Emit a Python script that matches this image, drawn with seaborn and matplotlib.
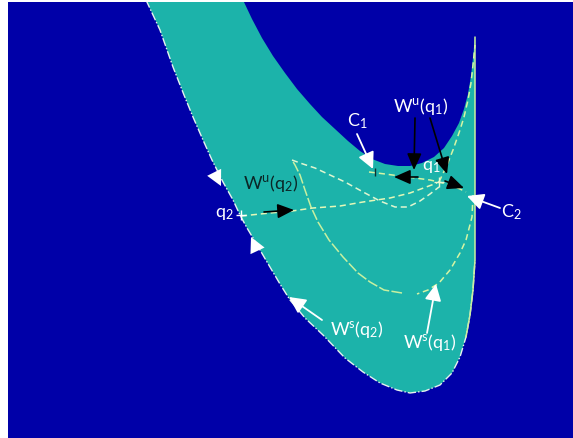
import matplotlib
matplotlib.use("Agg")
import matplotlib.pyplot as plt
import seaborn as sns

sns.set_style("white")
plt.rcParams["font.family"] = ["Lato", "DejaVu Sans"]
plt.rcParams["mathtext.fontset"] = "custom"
plt.rcParams["mathtext.rm"] = "Lato"
plt.rcParams["mathtext.it"] = "Lato"

BLUE = "#0000a8"
TEAL = "#1cb3aa"
PALE = "#d6f5a4"
WHITE = "#ffffff"

# Outer boundary of the region: left edge down to the bottom, then up the right side to the cusp
outer_x = [146, 160, 173, 184, 193, 203, 212, 223, 233, 240, 247, 253, 260, 267, 280, 290,
           305, 323, 345, 363, 380, 397, 410, 425, 440, 452, 460, 466, 470, 473, 475, 475, 475, 475]
outer_y = [0, 30, 67, 95, 117, 140, 160, 182, 200, 215, 228, 238, 250, 262, 284, 300,
           318, 335, 358, 372, 383, 390, 393, 391, 385, 373, 357, 337, 315, 290, 260, 180, 100, 37]
# Inner boundary (the cavity), from the cusp back to the top edge
inner_x = [475, 473, 471, 468, 464, 459, 452, 444, 434, 422, 410, 398, 385, 372, 360, 348,
           335, 322, 310, 297, 285, 273, 262, 252, 243]
inner_y = [37, 58, 76, 94, 109, 123, 136, 148, 157, 163, 166, 166, 164, 159, 151, 141,
           129, 117, 104, 89, 73, 56, 38, 19, 0]

# Unstable branch of q1 rising to the cusp
wu_q1_x = [439, 447, 453, 460, 464, 468, 471, 473, 475]
wu_q1_y = [182, 165, 150, 130, 117, 100, 83, 65, 45]
# Stable manifold of q1: lower U-shaped curve (two pieces) and the steep fold below the loop tip
ws_q1_right_x = [473, 472, 466, 460, 450, 439, 428, 417]
ws_q1_right_y = [195, 217, 240, 253, 270, 283, 290, 294]
ws_q1_left_x = [402, 384, 370, 358, 343, 329, 318, 311, 305, 300, 295, 292]
ws_q1_left_y = [293, 290, 282, 273, 257, 240, 222, 207, 190, 175, 165, 160]
# Loop from the tip back to q1
loop_x = [292, 300, 315, 330, 345, 365, 380, 395, 408, 420, 430, 439]
loop_y = [160, 163, 168, 175, 182, 193, 201, 207, 207, 201, 194, 187]
# Unstable manifold of q2
wu_q2_x = [241, 270, 292, 313, 340, 363, 390, 410, 437]
wu_q2_y = [216, 213, 211, 208, 206, 202, 198, 193, 183]
# Segment C1 -> q1 -> C2
c_x = [369, 385, 400, 415, 430, 439, 450, 460, 466]
c_y = [172, 174, 176, 178, 180, 182, 185, 189, 192]

# Labels: text, x, y, colour
label_text = [r"C$_\mathrm{1}$", r"W$^\mathrm{u}$(q$_\mathrm{1}$)", r"q$_\mathrm{1}$",
              r"C$_\mathrm{2}$", r"W$^\mathrm{u}$(q$_\mathrm{2}$)", r"q$_\mathrm{2}$",
              r"W$^\mathrm{s}$(q$_\mathrm{2}$)", r"W$^\mathrm{s}$(q$_\mathrm{1}$)"]
label_x = [357, 421, 431, 511, 271, 224, 357, 430]
label_y = [121, 107, 167, 212, 184, 214, 330, 343]
label_col = [WHITE, WHITE, WHITE, WHITE, "#0b2626", WHITE, WHITE, WHITE]

# Pointer arrows: (tail x, tail y, head x, head y)
white_arrows = [(357, 134, 373, 169), (500, 208, 467, 196),
                (322, 320, 289, 297), (427, 333, 436, 284)]
black_arrows = [(415, 118, 414, 170), (430, 118, 447, 174),
                (418, 177, 394, 177), (445, 181, 464, 188), (264, 212, 294, 210)]
# Flow-direction heads on the stable manifold of q2
flow_heads = [(212, 168, 221, 186), (259, 254, 251, 237)]

fig = plt.figure(figsize=(5.73, 4.38), dpi=100, facecolor="white")
ax = fig.add_axes([8 / 573, 0, 565 / 573, 436 / 438])
ax.set_facecolor(BLUE)
ax.set_xlim(8, 573)
ax.set_ylim(438, 2)
ax.set_xticks([])
ax.set_yticks([])
for s in ax.spines.values():
    s.set_visible(False)

ax.fill(outer_x + inner_x, outer_y + inner_y, color=TEAL, lw=0, zorder=1)

# Boundary curve (stable manifold of q2) and right edge
sns.lineplot(x=outer_x[:31], y=outer_y[:31], sort=False, estimator=None, ax=ax,
             color="#e6f2ee", lw=1.0, linestyle=(0, (6, 1.5, 1, 1.5)), zorder=3)
sns.lineplot(x=outer_x[27:], y=outer_y[27:], sort=False, estimator=None, ax=ax,
             color="#c9eea0", lw=1.1, zorder=3)

dash = (0, (4, 2.5))
for xs, ys, col, ls in [(wu_q1_x, wu_q1_y, PALE, dash),
                        (ws_q1_right_x, ws_q1_right_y, PALE, dash),
                        (ws_q1_left_x, ws_q1_left_y, "#c8f0a0", (0, (7, 1.5))),
                        (loop_x, loop_y, "#e0f6d0", dash),
                        (wu_q2_x, wu_q2_y, "#e4f8b8", dash),
                        (c_x, c_y, PALE, dash)]:
    sns.lineplot(x=xs, y=ys, sort=False, estimator=None, ax=ax,
                 color=col, lw=1.1, linestyle=ls, zorder=4)

# Point markers
ax.plot([241], [215], marker="+", color=WHITE, ms=7, mew=1, zorder=5)
ax.plot([439], [182], marker="+", color="#e8f8d0", ms=7, mew=1, zorder=5)
ax.plot([375], [172], marker="|", color="#0b3030", ms=6, mew=1, zorder=5)

for x0, y0, x1, y1 in white_arrows:
    ax.annotate("", xy=(x1, y1), xytext=(x0, y0),
                arrowprops=dict(arrowstyle="-|>,head_length=0.5,head_width=0.25",
                                mutation_scale=20, color=WHITE, lw=1.3,
                                shrinkA=0, shrinkB=0), zorder=6)
for x0, y0, x1, y1 in black_arrows:
    ax.annotate("", xy=(x1, y1), xytext=(x0, y0),
                arrowprops=dict(arrowstyle="-|>,head_length=0.5,head_width=0.22",
                                mutation_scale=20, color="black", lw=1.2,
                                shrinkA=0, shrinkB=0), zorder=6)
for x0, y0, x1, y1 in flow_heads:
    ax.annotate("", xy=(x1, y1), xytext=(x0, y0),
                arrowprops=dict(arrowstyle="-|>,head_length=0.55,head_width=0.28",
                                mutation_scale=20, color=WHITE, lw=0.01,
                                shrinkA=0, shrinkB=0), zorder=6)

for t, x, y, c in zip(label_text, label_x, label_y, label_col):
    ax.text(x, y, t, color=c, fontsize=13, ha="center", va="center", zorder=7)

fig.savefig("out.png", dpi=100, facecolor="white")
